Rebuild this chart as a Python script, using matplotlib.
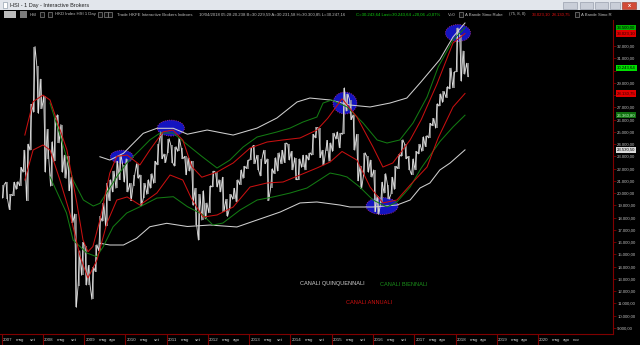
import matplotlib
matplotlib.use('Agg')
import matplotlib.pyplot as plt
from matplotlib.patches import Ellipse, Rectangle
from matplotlib.ticker import FuncFormatter

# HSI monthly range, gen 2007 .. apr 2018
month_low = [
    19600, 19500, 18660, 19800, 20300, 20600, 21700, 19390, 23500, 26600, 26500, 26900,
    21710, 22800, 20570, 22600, 24100, 21700, 21200, 20200, 17600, 10680, 12400, 13300,
    12500, 12500, 11340, 13600, 15300, 17700, 17300, 19400, 20100, 20400, 21100, 20900,
    20100, 19400, 20600, 21200, 18970, 19600, 19900, 20400, 20800, 22300, 22800, 22500,
    23300, 22500, 22200, 23400, 22800, 21500, 21800, 19000, 17400, 16170, 17800, 17900,
    18400, 20500, 20500, 20100, 18500, 18100, 18700, 19500, 19300, 20700, 21200, 22000,
    22700, 22400, 21900, 21400, 22400, 19400, 20400, 21600, 21800, 22400, 22500, 22700,
    21900, 21100, 21100, 22100, 21900, 22700, 23100, 24500, 22900, 22300, 23400, 22600,
    23400, 24400, 23700, 24800, 26700, 26000, 23500, 21000, 20370, 21400, 21700, 21300,
    18500, 18280, 19200, 20000, 19500, 19900, 20300, 22000, 23000, 22800, 21900, 21500,
    21900, 23200, 23400, 23800, 24500, 25500, 25300, 27100, 27400, 27800, 28500, 28600,
    29900, 29130, 29700, 29500,
]
month_high = [
    20700, 20900, 19900, 20900, 20950, 22100, 23500, 24000, 27250, 31960, 30400, 29300,
    27900, 25200, 24200, 26100, 26400, 25600, 23100, 23000, 21300, 18300, 15300, 16000,
    15700, 14100, 14000, 15800, 18100, 19200, 20800, 21100, 21800, 22600, 23100, 22300,
    22800, 20800, 21500, 22400, 21500, 20800, 21100, 21600, 22600, 24000, 24990, 23200,
    24450, 23900, 23800, 24470, 23700, 23000, 22900, 22600, 20400, 19900, 20200, 19200,
    20600, 21800, 21700, 21100, 21300, 19500, 19900, 20400, 21100, 21900, 22200, 22700,
    23700, 23900, 23100, 22800, 23500, 22800, 22000, 22900, 23300, 23500, 24100, 24000,
    23400, 22900, 22800, 23100, 23100, 23300, 24800, 25360, 25300, 23500, 24300, 24100,
    24900, 25000, 24900, 28590, 28100, 27600, 26400, 24800, 22200, 23300, 23000, 22700,
    21900, 19800, 20900, 21600, 20700, 21300, 22200, 23200, 24360, 24000, 23000, 22800,
    23400, 24000, 24600, 24700, 25700, 26100, 27300, 28100, 28300, 28700, 30200, 29900,
    33480, 32900, 31600, 30600,
]

# canali annuali (rosso)
red_up_t = [2007.56, 2007.76, 2008.00, 2008.17, 2008.58, 2008.82, 2008.97, 2009.09, 2009.21,
            2009.38, 2009.62, 2009.79, 2010.04, 2010.35, 2010.59, 2010.91, 2011.15, 2011.39,
            2011.61, 2011.85, 2012.22, 2012.61, 2013.02, 2013.43, 2013.82, 2014.23, 2014.64,
            2014.90, 2015.25, 2015.61, 2016.00, 2016.24, 2016.48, 2016.90, 2017.17, 2017.55,
            2017.94, 2018.23]
red_up_v = [24740, 27460, 28000, 27600, 23520, 19200, 16180, 15220, 15650,
            17810, 21640, 23000, 23110, 22300, 23520, 25000, 25150, 24330,
            22160, 21300, 21720, 22460, 23680, 24170, 24340, 24500, 25150,
            26100, 27700, 26210, 23760, 22130, 22460, 24340, 26000, 28900,
            32250, 33023]
red_lo_t = [2007.56, 2007.76, 2008.00, 2008.17, 2008.41, 2008.65, 2008.90, 2009.09, 2009.31,
            2009.55, 2009.79, 2010.04, 2010.35, 2010.76, 2011.08, 2011.39, 2011.60, 2011.88,
            2012.22, 2012.61, 2013.02, 2013.43, 2013.82, 2014.23, 2014.64, 2014.96, 2015.25,
            2015.61, 2015.93, 2016.24, 2016.58, 2016.90, 2017.31, 2017.58, 2017.94, 2018.23]
red_lo_v = [21070, 23520, 23930, 23520, 21070, 18380, 14820, 13080, 14550,
            17560, 19440, 19690, 19030, 20010, 21480, 21070, 19550, 18050,
            18220, 18870, 20500, 20830, 20910, 21480, 22050, 22540, 23400,
            22700, 20500, 19200, 19440, 20660, 22130, 24500, 27030, 28130]

# canali biennali (verde)
green_up_t = [2008.17, 2008.45, 2008.73, 2008.98, 2009.22, 2009.38, 2009.54, 2009.79, 2010.03,
              2010.35, 2010.59, 2010.84, 2011.15, 2011.50, 2011.85, 2012.22, 2012.53, 2012.85,
              2013.19, 2013.67, 2013.99, 2014.30, 2014.64, 2014.79, 2015.00, 2015.37, 2015.76,
              2016.10, 2016.34, 2016.65, 2016.97, 2017.31, 2017.58, 2017.94, 2018.23]
green_up_v = [27350, 24340, 21070, 19440, 18950, 19170, 20010, 21340, 22460,
              23520, 24340, 24910, 24910, 23950, 23000, 22050, 22700, 23760,
              24580, 24990, 25310, 25800, 26210, 27350, 27600, 27030, 25720,
              24340, 24090, 24340, 25720, 27840, 30290, 32490, 33500]
green_lo_t = [2008.17, 2008.57, 2008.73, 2009.06, 2009.30, 2009.46, 2009.70, 2010.03, 2010.35,
              2010.76, 2011.16, 2011.50, 2011.85, 2012.12, 2012.36, 2012.78, 2013.19, 2013.58,
              2013.99, 2014.40, 2014.96, 2015.20, 2015.37, 2015.68, 2016.00, 2016.34, 2016.58,
              2016.90, 2017.17, 2017.62, 2017.94, 2018.23]
green_lo_v = [21340, 18380, 16180, 15120, 14820, 15630, 17260, 18380, 18890,
              19600, 19710, 18900, 18300, 17400, 17560, 18630, 19440, 19690,
              20010, 20420, 21640, 21480, 21320, 20500, 19440, 18870, 19280,
              20500, 22050, 24200, 25400, 26360]

# canali quinquennali (bianco)
white_up_t = [2009.38, 2009.62, 2009.95, 2010.19, 2010.43, 2010.76, 2011.16, 2011.50, 2011.98,
              2012.61, 2013.19, 2013.67, 2014.16, 2014.47, 2014.96, 2015.44, 2015.93, 2016.41,
              2016.82, 2017.17, 2017.62, 2017.94, 2018.23]
white_up_v = [22970, 22700, 23250, 24070, 24880, 25290, 25290, 24810, 25150,
              24740, 25310, 26130, 27440, 27760, 27600, 27190, 27030, 27350,
              27760, 29100, 30900, 32740, 33880]
white_lo_t = [2009.38, 2009.62, 2009.95, 2010.27, 2010.59, 2011.00, 2011.50, 2012.05, 2012.70,
              2013.19, 2013.75, 2014.23, 2014.64, 2015.20, 2015.44, 2016.00, 2016.58, 2016.90,
              2017.14, 2017.38, 2017.62, 2017.87, 2018.23]
white_lo_v = [15910, 15770, 15770, 16320, 17260, 17540, 17280, 17400, 17240,
              17810, 18460, 19200, 19280, 19030, 18870, 18870, 19030, 19440,
              20420, 20830, 21890, 22460, 23530]

# cerchi blu: centro (anno, prezzo), larghezza (anni), altezza (punti)
circle_t = [2009.91, 2011.10, 2015.32, 2016.22, 2018.06]
circle_v = [22970, 25310, 27350, 18950, 33060]
circle_w = [0.56, 0.66, 0.58, 0.78, 0.61]
circle_h = [1060, 1300, 1790, 1390, 1390]

years = list(range(2007, 2021))
year_months = [['mag', 'set'], ['mag', 'set'], ['mag', 'ago'], ['mag', 'set'], ['mag', 'set'],
               ['mag', 'ago'], ['mag', 'set'], ['mag', 'set'], ['mag', 'set'], ['mag', 'set'],
               ['mag', 'ago'], ['mag', 'ago'], ['mag', 'ago'], ['mag', 'ago', 'nov']]
month_num = {'mag': 5, 'ago': 8, 'set': 9, 'nov': 11}

tag_labels = ['33.500,00', '33.023,10', '30.243,64', '28.130,75', '26.360,80', '23.530,50']
tag_values = [33500, 33023, 30243.64, 28130.75, 26360.8, 23530.5]
tag_colors = ['#00b000', '#e00000', '#00e000', '#e00000', '#107010', '#d8d8d8']
tag_text = ['black', '#300000', 'black', '#300000', '#c8ffc8', 'black']
hidden_ticks = [28000, 30000]   # coperti dalle etichette colorate

W, H = 640, 345
FONT = 'Liberation Sans'


def fx(x):
    return x / W


def fy(y):
    return 1 - y / H


fig = plt.figure(figsize=(6.4, 3.45), dpi=100, facecolor='black')
ax = fig.add_axes([0, fy(334), 613 / W, (334 - 20) / H])
ax.set_facecolor('black')
ax.set_xlim(2006.958, 2021.818)
ax.set_ylim(8510, 34125)

# prezzo: barre mensili + zig-zag tra minimi e massimi
month_t = [2007 + (i + 0.5) / 12 for i in range(len(month_low))]
ax.vlines(month_t, month_low, month_high, color='#9a9a9a', lw=1.1, zorder=3)
mid = [(l + h) / 2 for l, h in zip(month_low, month_high)]
px_t, px_v = [], []
for i, (lo, hi) in enumerate(zip(month_low, month_high)):
    t0 = 2007 + i / 12
    nxt = mid[i + 1] if i + 1 < len(mid) else mid[i]
    prv = mid[i - 1] if i > 0 else mid[i]
    first, second = (lo, hi) if nxt >= prv else (hi, lo)
    px_t += [t0 + 0.2 / 12, t0 + 0.7 / 12]
    px_v += [first, second]
ax.plot(px_t, px_v, color='#e0e0e0', lw=0.6, zorder=3)

for t, v, w, h in zip(circle_t, circle_v, circle_w, circle_h):
    ax.add_patch(Ellipse((t, v), w, h, facecolor='#1414c0', edgecolor='#c03090',
                         lw=0.6, ls=':', zorder=2))

bands = [(white_up_t, white_up_v, '#cfcfcf'), (white_lo_t, white_lo_v, '#cfcfcf'),
         (green_up_t, green_up_v, '#137a13'), (green_lo_t, green_lo_v, '#137a13'),
         (red_up_t, red_up_v, '#c81010'), (red_lo_t, red_lo_v, '#c81010')]
for t, v, c in bands:
    ax.plot(t, v, color=c, lw=0.75, zorder=4)

# assi
for side in ['top', 'left']:
    ax.spines[side].set_visible(False)
ax.spines['right'].set_color('#800000')
ax.spines['bottom'].set_color('#800000')
ax.yaxis.tick_right()
ax.set_yticks(range(9000, 33000, 1000))


def fmt_it(v, pos):
    if v in hidden_ticks:
        return ''
    return f'{v:,.2f}'.replace(',', '#').replace('.', ',').replace('#', '.')


ax.yaxis.set_major_formatter(FuncFormatter(fmt_it))
ax.tick_params(axis='y', colors='#800000', labelcolor='#bdbdbd', labelsize=3.1,
               length=2, width=0.6, pad=1)
for lab in ax.get_yticklabels():
    lab.set_family(FONT)

ax.set_xticks(years)
ax.tick_params(axis='x', colors='#800000', length=8, width=0.8, labelbottom=False)
for yr, months in zip(years, year_months):
    ax.text(yr + 0.03, -0.018, str(yr), transform=ax.get_xaxis_transform(),
            ha='left', va='center', fontsize=3.2, color='#c8c8c8', family=FONT)
    for m in months:
        ax.text(yr + (month_num[m] - 1) / 12 + 0.01, -0.018, m,
                transform=ax.get_xaxis_transform(), ha='left', va='center',
                fontsize=3.2, color='#c8c8c8', family=FONT)

for s, v, c, tc in zip(tag_labels, tag_values, tag_colors, tag_text):
    ax.text(1.006, v, s, transform=ax.get_yaxis_transform(), ha='left', va='center',
            fontsize=3.1, color=tc, family=FONT, clip_on=False, zorder=6,
            bbox=dict(boxstyle='square,pad=0.25', fc=c, ec='none'))

# legenda dei canali
fig.text(fx(300), fy(284), 'CANALI QUINQUENNALI', color='#d0d0d0', fontsize=4.1,
         family=FONT, va='center')
fig.text(fx(380), fy(284), 'CANALI BIENNALI', color='#1a8f1a', fontsize=4.1,
         family=FONT, va='center')
fig.text(fx(346), fy(303), 'CANALI ANNUALI', color='#d01010', fontsize=4.1,
         family=FONT, va='center')

# barra del titolo della finestra
fig.add_artist(Rectangle((0, fy(10)), 1, 10 / H, transform=fig.transFigure,
                         facecolor='#e2e6ec', edgecolor='none'))
fig.add_artist(Rectangle((fx(3), fy(8)), 4 / W, 6 / H, transform=fig.transFigure,
                         facecolor='white', edgecolor='#8090a0', lw=0.4))
fig.text(fx(10), fy(5), 'HSI - 1 Day - Interactive Brokers', fontsize=4.0,
         color='#202020', family=FONT, va='center')
for x0, x1 in [(563, 577), (580, 593), (595, 608), (610, 620)]:
    fig.add_artist(Rectangle((fx(x0), fy(9)), (x1 - x0) / W, 7 / H,
                             transform=fig.transFigure, facecolor='#c9ced8',
                             edgecolor='#8a92a2', lw=0.4))
fig.add_artist(Rectangle((fx(622), fy(9)), 14 / W, 7 / H, transform=fig.transFigure,
                         facecolor='#d24a36', edgecolor='#90301f', lw=0.4))
fig.text(fx(629), fy(5.5), 'x', fontsize=4, color='white', ha='center', va='center',
         weight='bold', family=FONT)

# barra strumenti con i dati
fig.add_artist(Rectangle((fx(4), fy(18)), 12 / W, 7 / H, transform=fig.transFigure,
                         facecolor='#bcbcbc', edgecolor='none'))
fig.add_artist(Rectangle((fx(20), fy(18)), 7 / W, 7 / H, transform=fig.transFigure,
                         facecolor='#7c7c7c', edgecolor='none'))
for x0 in [40, 48, 98, 104, 108, 459, 575]:
    fig.add_artist(Rectangle((fx(x0), fy(17)), 4 / W, 5 / H, transform=fig.transFigure,
                             facecolor='#101010', edgecolor='#a0a0a0', lw=0.4))
header = [
    (30, 'HSI', '#bdbdbd'),
    (55, 'HKD Index HSI 1 Day', '#bdbdbd'),
    (117, 'Trade HKFE Interactive Brokers Indexes', '#bdbdbd'),
    (199, '10/04/2018 05:28:20.238 B=30.229,59 A=30.231,58 H=30.300,85 L=30.247,16',
     '#bdbdbd'),
    (356, 'C=30.243,64 Last=30.243,64 +20,06 +0,07%', '#10d010'),
    (448, 'V=0', '#bdbdbd'),
    (465, 'A Bande Simo Rube', '#bdbdbd'),
    (509, '(75, 8, 0)', '#bdbdbd'),
    (532, '33.023,10', '#e01010'),
    (552, '28.130,75', '#e01010'),
    (581, 'A Bande Simo R', '#bdbdbd'),
]
for x0, s, c in header:
    fig.text(fx(x0), fy(14.5), s, fontsize=3.1, color=c, family=FONT, va='center')

fig.savefig('out.png', dpi=100, facecolor='black')
